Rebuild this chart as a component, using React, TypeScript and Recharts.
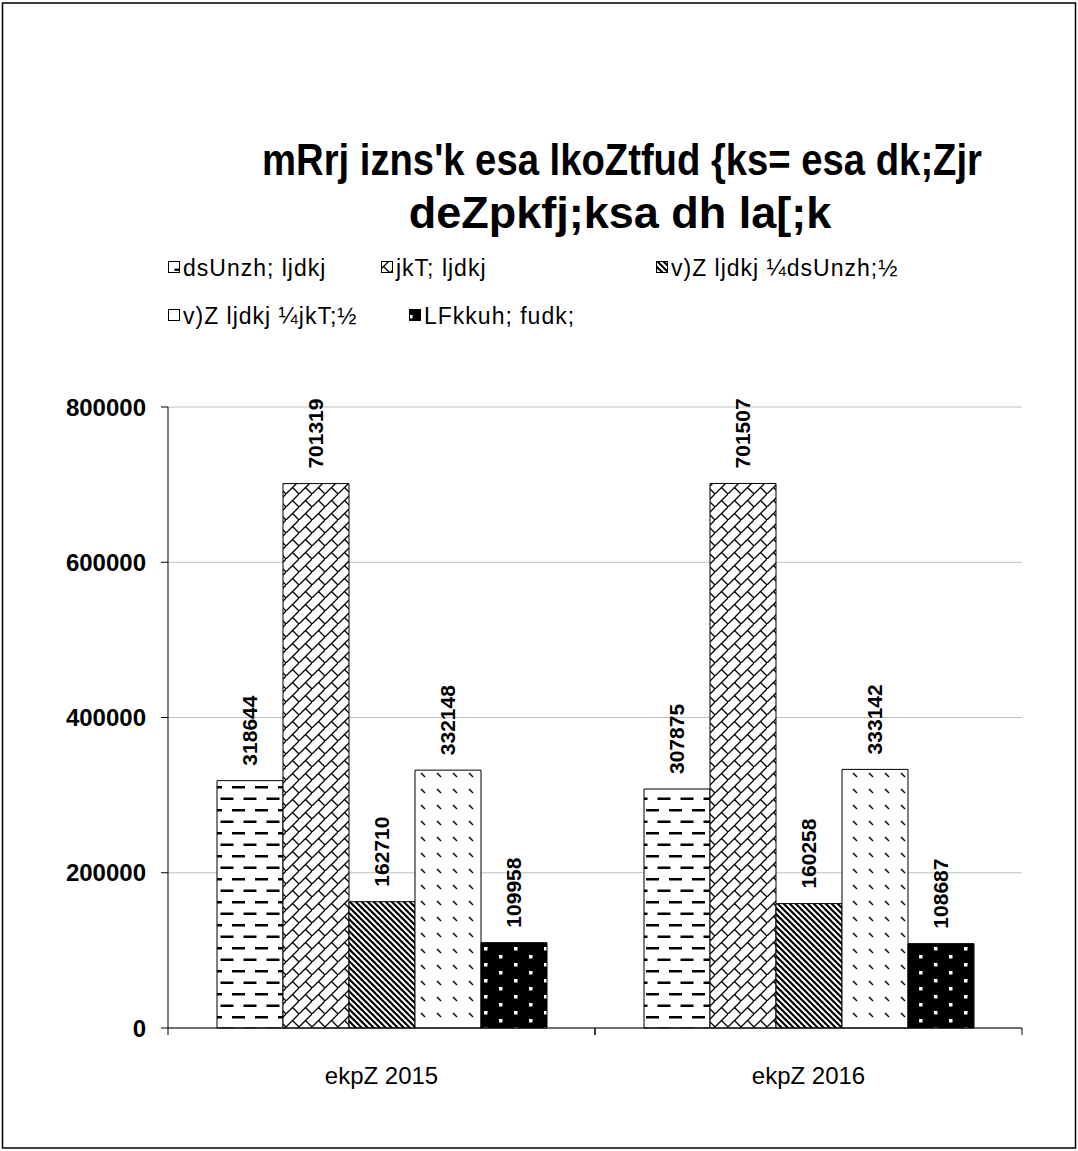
import { Bar, BarChart, CartesianGrid, LabelList, XAxis, YAxis } from "recharts"

// employee counts by year, one array per employer type
const years = ["ekpZ 2015", "ekpZ 2016"]
const central = [318644, 307875]
const stateGovt = [701319, 701507]
const semiCentral = [162710, 160258]
const semiState = [332148, 333142]
const localBodies = [109958, 108687]

const seriesNames = [
  "dsUnzh; ljdkj",
  "jkT; ljdkj",
  "v)Z ljdkj ¼dsUnzh;½",
  "v)Z ljdkj ¼jkT;½",
  "LFkkuh; fudk;",
]
const yTicks = [0, 200000, 400000, 600000, 800000]

const titleLines = ["mRrj izns'k esa lkoZtfud {ks= esa dk;Zjr", "deZpkfj;ksa dh la[;k"]

const FONT = "'Liberation Sans', Arial, sans-serif"
const W = 1078
const H = 1151
const PLOT_LEFT = 168
const PLOT_RIGHT = 1022
const BAND = (PLOT_RIGHT - PLOT_LEFT) / years.length

const keys = ["central", "stateGovt", "semiCentral", "semiState", "localBodies"]
const fills = ["url(#pDash)", "url(#pBrick)", "url(#pStripe)", "url(#pSparse)", "url(#pDots)"]

const data = years.map((year, i) => ({
  year,
  central: central[i],
  stateGovt: stateGovt[i],
  semiCentral: semiCentral[i],
  semiState: semiState[i],
  localBodies: localBodies[i],
}))

// legend layout: [swatch x, row center y]
const legendPos: [number, number][] = [
  [168, 268],
  [381, 268],
  [656, 268],
  [168, 316],
  [409, 316],
]

function Patterns() {
  return (
    <svg width={0} height={0} style={{ position: "absolute" }}>
      <defs>
        <pattern id="pDash" patternUnits="userSpaceOnUse" width={23} height={23}>
          <rect width={23} height={23} fill="#fff" />
          <rect x={2} y={4} width={13} height={2.5} fill="#000" />
          <rect x={13.5} y={15.5} width={9.5} height={2.5} fill="#000" />
          <rect x={0} y={15.5} width={3.5} height={2.5} fill="#000" />
        </pattern>
        <pattern id="pBrick" patternUnits="userSpaceOnUse" width={13} height={13}>
          <rect width={13} height={13} fill="#fff" />
          <path d="M0,13 L13,0 M6.5,6.5 L13,13" stroke="#000" strokeWidth={1.3} />
        </pattern>
        <pattern id="pStripe" patternUnits="userSpaceOnUse" width={6} height={6}>
          <rect width={6} height={6} fill="#fff" />
          <path d="M-1,-1 L7,7 M-1,5 L1,7 M5,-1 L7,1" stroke="#000" strokeWidth={2.2} />
        </pattern>
        <pattern id="pSparse" patternUnits="userSpaceOnUse" width={16} height={16}>
          <rect width={16} height={16} fill="#fff" />
          <path d="M5,5 L9,9" stroke="#000" strokeWidth={1.4} />
        </pattern>
        <pattern id="pDots" patternUnits="userSpaceOnUse" width={30} height={16}>
          <rect width={30} height={16} fill="#000" />
          <rect x={4} y={3} width={3.5} height={3.5} fill="#fff" />
          <rect x={19} y={11} width={3.5} height={3.5} fill="#fff" />
        </pattern>
      </defs>
    </svg>
  )
}

function ValueLabel(props: any) {
  const { x, y, width, value } = props
  const cx = Number(x) + Number(width) / 2
  const ty = Number(y) - 15
  return (
    <text
      x={cx}
      y={ty}
      transform={`rotate(-90 ${cx} ${ty})`}
      textAnchor="start"
      dominantBaseline="central"
      fontFamily={FONT}
      fontSize={21}
      fontWeight="bold"
      fill="#000"
    >
      {value}
    </text>
  )
}

// category label plus the boundary tick marks between categories
function YearTick(props: any) {
  const { x, y, payload } = props
  return (
    <g>
      <line x1={x - BAND / 2} x2={x - BAND / 2} y1={y} y2={y + 7} stroke="#000" />
      <line x1={x + BAND / 2} x2={x + BAND / 2} y1={y} y2={y + 7} stroke="#000" />
      <text x={x} y={y + 56} textAnchor="middle" fontFamily={FONT} fontSize={24} fill="#000">
        {payload.value}
      </text>
    </g>
  )
}

export default function App() {
  return (
    <div
      style={{
        position: "absolute",
        left: 0,
        top: 0,
        width: W,
        height: H,
        background: "#fff",
        fontFamily: FONT,
      }}
    >
      <Patterns />
      <BarChart
        width={W}
        height={H}
        data={data}
        margin={{ top: 407, right: W - PLOT_RIGHT, bottom: 0, left: 0 }}
        barCategoryGap={49}
        barGap={0}
      >
        <CartesianGrid vertical={false} stroke="#c0c0c0" />
        <XAxis
          dataKey="year"
          height={123}
          tickLine={false}
          tickSize={0}
          tickMargin={0}
          axisLine={{ stroke: "#000" }}
          tick={<YearTick />}
        />
        <YAxis
          width={PLOT_LEFT}
          domain={[0, 800000]}
          ticks={yTicks}
          tickSize={7}
          tickMargin={15}
          axisLine={{ stroke: "#000" }}
          tickLine={{ stroke: "#000" }}
          tick={{ fill: "#000", fontSize: 24, fontWeight: "bold", fontFamily: FONT }}
        />
        {keys.map((k, i) => (
          <Bar
            key={k}
            dataKey={k}
            name={seriesNames[i]}
            fill={fills[i]}
            stroke="#000"
            strokeWidth={1}
            isAnimationActive={false}
          >
            <LabelList dataKey={k} content={<ValueLabel />} />
          </Bar>
        ))}
      </BarChart>
      <svg
        width={W}
        height={H}
        style={{ position: "absolute", left: 0, top: 0, pointerEvents: "none" }}
      >
        <rect x={2.5} y={3} width={1073} height={1145} fill="none" stroke="#000" strokeWidth={1.5} />
        {/* first title line is squeezed a little horizontally to fit */}
        <g transform="translate(622 175) scale(0.85 1)">
          <text x={0} y={0} textAnchor="middle" fontFamily={FONT} fontSize={45} fontWeight="bold">
            {titleLines[0]}
          </text>
        </g>
        <text x={620} y={228} textAnchor="middle" fontFamily={FONT} fontSize={45} fontWeight="bold">
          {titleLines[1]}
        </text>
        {seriesNames.map((name, i) => {
          const [sx, cy] = legendPos[i]
          return (
            <g key={name}>
              <rect x={sx + 0.5} y={cy - 6.5} width={11} height={11} fill={fills[i]} stroke="#000" />
              <text x={sx + 15} y={cy + 8} fontFamily={FONT} fontSize={23} letterSpacing={1}>
                {name}
              </text>
            </g>
          )
        })}
      </svg>
    </div>
  )
}
